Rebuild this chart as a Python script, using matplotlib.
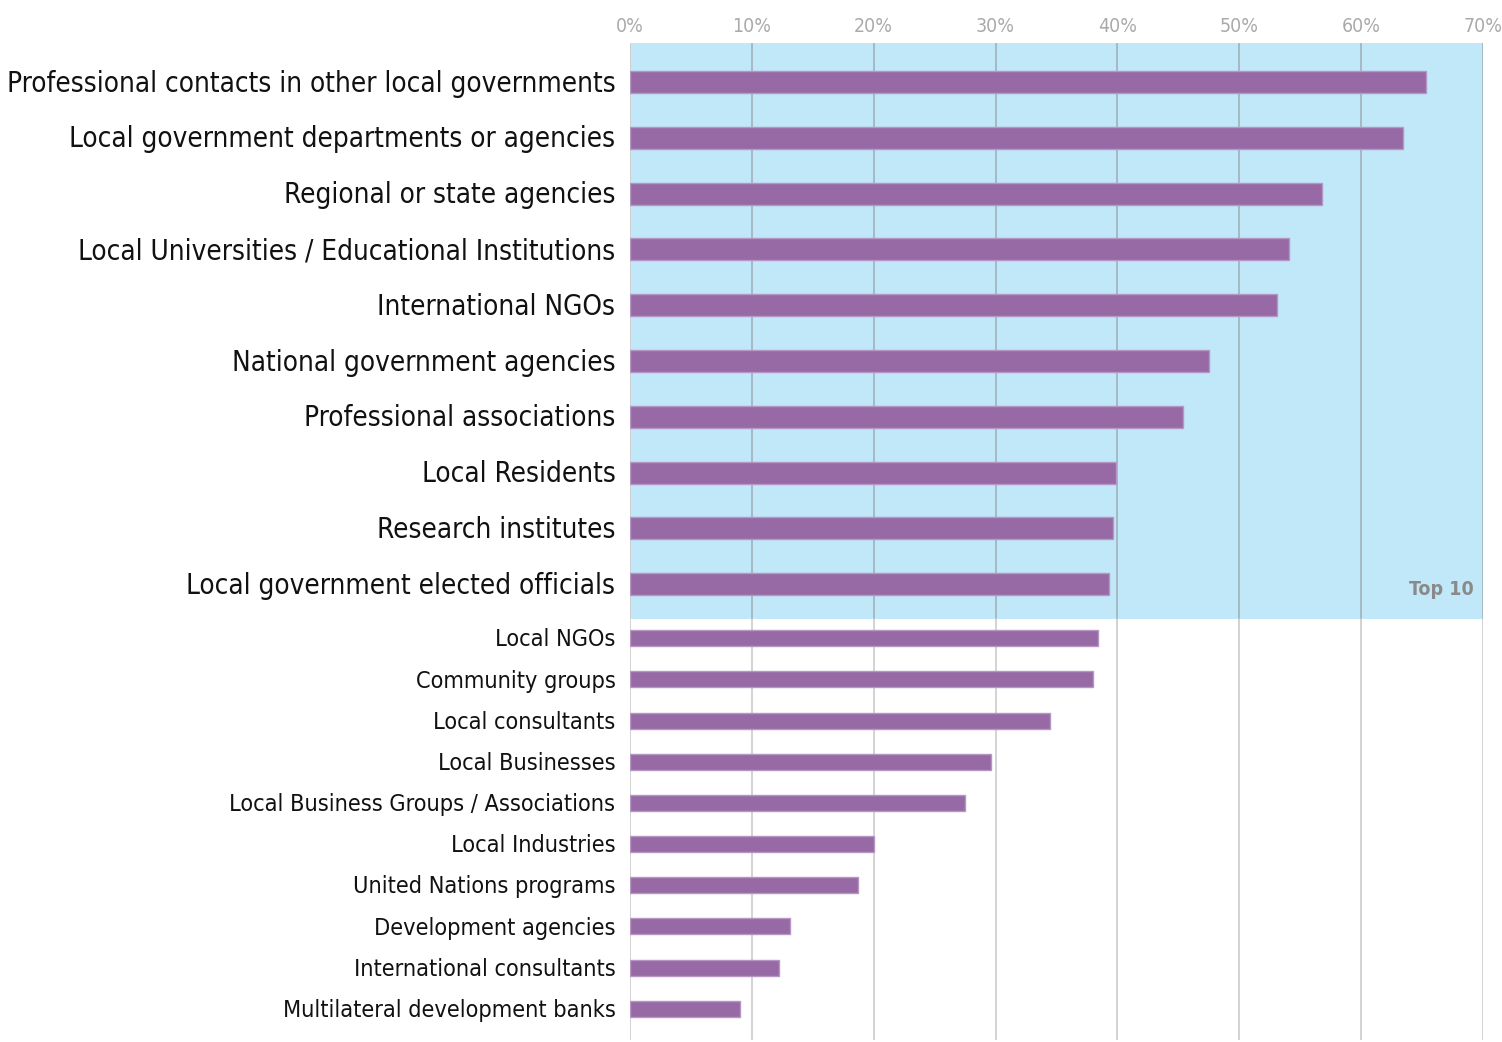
import matplotlib
matplotlib.use("Agg")
import matplotlib.pyplot as plt
import numpy as np

top_labels = [
    "Professional contacts in other local governments",
    "Local government departments or agencies",
    "Regional or state agencies",
    "Local Universities / Educational Institutions",
    "International NGOs",
    "National government agencies",
    "Professional associations",
    "Local Residents",
    "Research institutes",
    "Local government elected officials",
]
top_values = [65.3, 63.4, 56.8, 54.1, 53.1, 47.5, 45.4, 39.9, 39.6, 39.3]

rest_labels = [
    "Local NGOs",
    "Community groups",
    "Local consultants",
    "Local Businesses",
    "Local Business Groups / Associations",
    "Local Industries",
    "United Nations programs",
    "Development agencies",
    "International consultants",
    "Multilateral development banks",
]
rest_values = [38.4, 38.0, 34.5, 29.6, 27.5, 20.0, 18.7, 13.1, 12.2, 9.0]

ticks = [0, 10, 20, 30, 40, 50, 60, 70]

FONT = "DejaVu Sans"
BAR = "#976aa6"
EDGE = "#b596c4"
SKY = "#c1e8f8"

# row layout: top group spaced 1.0, the rest packed tighter
y_top = np.arange(len(top_labels), dtype=float)
y_rest = 9.968 + np.arange(len(rest_labels)) * 0.738

fig = plt.figure(figsize=(15.02, 10.42), dpi=100)
ax = fig.add_axes([630 / 1502, 2 / 1042, 853 / 1502, 997 / 1042])
ax.set_xlim(0, 70)
ax.set_ylim(17.17, -0.699)

# shaded band behind the top ten
ax.axhspan(-0.699, 9.62, color=SKY, zorder=0, lw=0)

for t in ticks[1:]:
    ax.plot([t, t], [-0.699, 9.62], color="#9fb3bd", lw=1.2, zorder=1)
    ax.plot([t, t], [9.62, 17.17], color="#cccccc", lw=1.2, zorder=1)
ax.plot([0, 0], [-0.699, 17.17], color="#cccccc", lw=1.2, zorder=1)

ax.barh(y_top, top_values, height=0.394, color=BAR, edgecolor=EDGE, lw=1, zorder=2)
ax.barh(y_rest, rest_values, height=0.287, color=BAR, edgecolor=EDGE, lw=1, zorder=2)

for y, lab in zip(y_top, top_labels):
    ax.text(-1.2, y + 0.03, lab, ha="right", va="center", fontsize=20, family=FONT,
            fontstretch="condensed", color="#111111")
for y, lab in zip(y_rest, rest_labels):
    ax.text(-1.2, y + 0.03, lab, ha="right", va="center", fontsize=16.8, family=FONT,
            fontstretch="condensed", color="#111111")

ax.text(69.2, 9.09, "Top 10", ha="right", va="center", fontsize=14, family=FONT,
        fontstretch="condensed", fontweight="bold", color="#8a8a8a")

ax.xaxis.tick_top()
ax.set_xticks(ticks)
ax.set_xticklabels([f"{t}%" for t in ticks], family=FONT, fontstretch="condensed",
                   fontsize=14, color="#aaaaaa")
ax.tick_params(axis="x", length=0, pad=5)
ax.set_yticks([])
for s in ax.spines.values():
    s.set_visible(False)

fig.savefig("out.png", dpi=100)
